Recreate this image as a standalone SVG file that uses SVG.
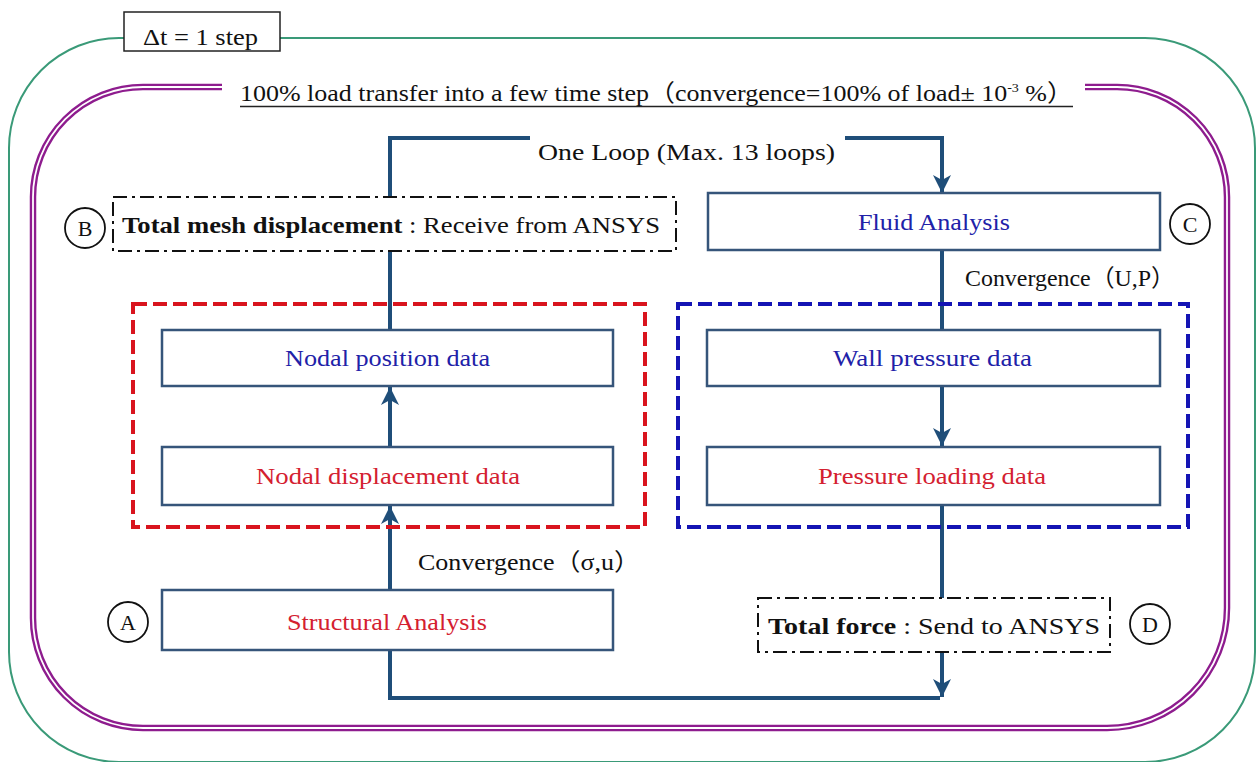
<svg xmlns="http://www.w3.org/2000/svg" width="1260" height="762" viewBox="0 0 1260 762">
<style>
text{font-family:"Liberation Serif","Times New Roman",Times,serif;font-size:24px;fill:#111}
.cjk{font-family:"Liberation Serif","Noto Sans CJK JP",serif}
.blue{fill:#2121A8}
.red{fill:#D42030}
.box{fill:#fff;stroke:#36557A;stroke-width:2.5}
.dd{fill:#fff;stroke:#111;stroke-width:2;stroke-dasharray:14 5 3 5}
.circ{fill:#fff;stroke:#111;stroke-width:1.8}
.lt{font-size:22px}
.conn{fill:none;stroke:#1F4E79;stroke-width:4}
</style>
<defs>
<marker id="ah" markerUnits="userSpaceOnUse" markerWidth="20" markerHeight="20" refX="18" refY="9" orient="auto">
<path d="M0,0 L18,9 L0,18 L5,9 z" fill="#1F4E79"/>
</marker>
</defs>
<rect width="1260" height="762" fill="#fff"/>
<g id="frame-outer">
<rect x="9" y="38" width="1246" height="724" rx="110" ry="110" fill="none" stroke="#3A9A78" stroke-width="2"/>
<rect x="124" y="12" width="156" height="39" fill="#fff" stroke="#222" stroke-width="1.5"/>
<text x="143" y="45" textLength="115" lengthAdjust="spacingAndGlyphs">Δt = 1 step</text>
</g>
<g id="frame-inner">
<path d="M222,87 H143 A110,110 0 0 0 33,197 V618 A110,110 0 0 0 143,728 H1107 A120,120 0 0 0 1227,608 V197 A110,110 0 0 0 1117,87 H1085" fill="none" stroke="#8E1C8E" stroke-width="6.5"/>
<path d="M222,87 H143 A110,110 0 0 0 33,197 V618 A110,110 0 0 0 143,728 H1107 A120,120 0 0 0 1227,608 V197 A110,110 0 0 0 1117,87 H1085" fill="none" stroke="#fff" stroke-width="1.8"/>
<text class="cjk" x="240" y="101" textLength="833" lengthAdjust="spacingAndGlyphs">100% load transfer into a few time step（convergence=100% of load± 10<tspan font-size="13" dy="-9">-3</tspan><tspan dy="9"> %）</tspan></text>
<line x1="240" y1="106.5" x2="1073" y2="106.5" stroke="#222" stroke-width="1.5"/>
</g>
<g id="connectors">
<polyline class="conn" points="390,330 390,138 530,138"/>
<polyline class="conn" points="845,138 942,138 942,193" marker-end="url(#ah)"/>
<line class="conn" x1="942" y1="251" x2="942" y2="330"/>
<line class="conn" x1="942" y1="386" x2="942" y2="446" marker-end="url(#ah)"/>
<line class="conn" x1="942" y1="505" x2="942" y2="697" marker-end="url(#ah)"/>
<line class="conn" x1="390" y1="446" x2="390" y2="387" marker-end="url(#ah)"/>
<line class="conn" x1="390" y1="590" x2="390" y2="506" marker-end="url(#ah)"/>
<polyline class="conn" points="390,650 390,698 940,698"/>
<text x="538" y="160" textLength="297" lengthAdjust="spacingAndGlyphs">One Loop (Max. 13  loops)</text>
<text class="cjk" x="965" y="286" textLength="210" lengthAdjust="spacingAndGlyphs">Convergence（U,P）</text>
<text class="cjk" x="418" y="570" textLength="222" lengthAdjust="spacingAndGlyphs">Convergence（σ,u）</text>
</g>
<g id="group-structure">
<rect x="133" y="304" width="512" height="223" fill="none" stroke="#D9141E" stroke-width="4" stroke-dasharray="14 6"/>
</g>
<g id="group-fluid">
<rect x="678" y="304" width="510" height="223" fill="none" stroke="#1414B4" stroke-width="4" stroke-dasharray="14 6"/>
</g>
<g id="node-B">
<rect class="dd" x="113" y="197" width="563" height="54"/>
<text x="122" y="233" textLength="538" lengthAdjust="spacingAndGlyphs"><tspan font-weight="bold">Total mesh displacement</tspan> : Receive  from ANSYS</text>
<circle class="circ" cx="85" cy="228" r="20"/>
<text class="lt" x="85" y="236" text-anchor="middle">B</text>
</g>
<g id="node-fluid">
<rect class="box" x="708" y="193" width="452" height="57"/>
<text class="blue" x="858" y="230" textLength="152" lengthAdjust="spacingAndGlyphs">Fluid Analysis</text>
<circle class="circ" cx="1190" cy="224" r="20"/>
<text class="lt" x="1190" y="232" text-anchor="middle">C</text>
</g>
<g id="node-nodal-position">
<rect class="box" x="162" y="330" width="451" height="56"/>
<text class="blue" x="285" y="366" textLength="205" lengthAdjust="spacingAndGlyphs">Nodal position data</text>
</g>
<g id="node-wall-pressure">
<rect class="box" x="707" y="330" width="453" height="56"/>
<text class="blue" x="833" y="366" textLength="199" lengthAdjust="spacingAndGlyphs">Wall pressure data</text>
</g>
<g id="node-nodal-displacement">
<rect class="box" x="162" y="447" width="451" height="58"/>
<text class="red" x="256" y="484" textLength="264" lengthAdjust="spacingAndGlyphs">Nodal displacement  data</text>
</g>
<g id="node-pressure-loading">
<rect class="box" x="707" y="447" width="453" height="58"/>
<text class="red" x="818" y="484" textLength="228" lengthAdjust="spacingAndGlyphs">Pressure loading data</text>
</g>
<g id="node-structural">
<rect class="box" x="162" y="590" width="451" height="60"/>
<text class="red" x="287" y="630" textLength="200" lengthAdjust="spacingAndGlyphs">Structural Analysis</text>
<circle class="circ" cx="128" cy="622" r="20"/>
<text class="lt" x="128" y="630" text-anchor="middle">A</text>
</g>
<g id="node-D">
<rect class="dd" x="758" y="598" width="352" height="54"/>
<text x="768" y="634" textLength="332" lengthAdjust="spacingAndGlyphs"><tspan font-weight="bold">Total force</tspan> : Send to ANSYS</text>
<circle class="circ" cx="1150" cy="624" r="20"/>
<text class="lt" x="1150" y="632" text-anchor="middle">D</text>
</g>
</svg>
